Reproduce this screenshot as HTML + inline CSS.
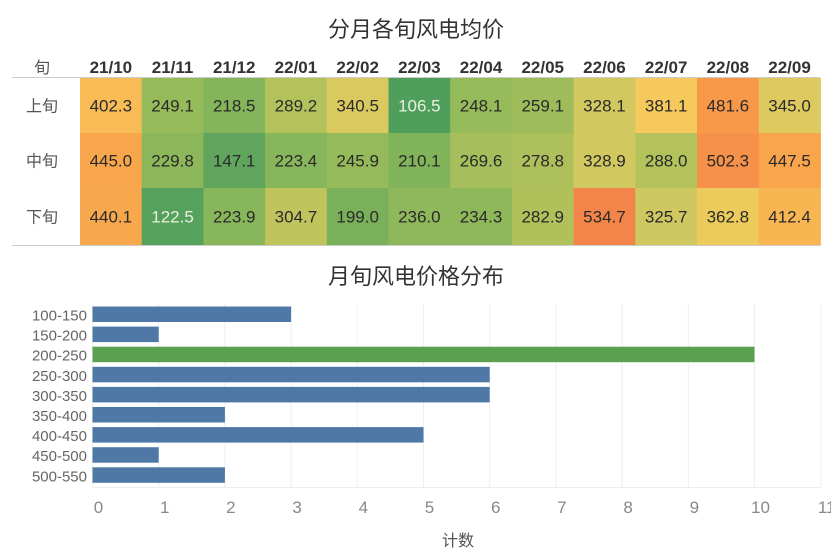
<!DOCTYPE html>
<html><head><meta charset="utf-8">
<style>
body{margin:0;background:#fff;font-family:"Liberation Sans","Noto Sans CJK SC",sans-serif;}
svg text{font-family:"Liberation Sans","Noto Sans CJK SC",sans-serif;}
</style></head>
<body>
<svg id="c" width="831" height="553" viewBox="0 0 831 553" xmlns="http://www.w3.org/2000/svg">
<text x="416" y="37" text-anchor="middle" font-size="22" fill="#333" font-family="Noto Serif CJK SC, serif">分月各旬风电均价</text>
<text x="416" y="284" text-anchor="middle" font-size="22" fill="#333" font-family="Noto Serif CJK SC, serif">月旬风电价格分布</text>
<g id="heat"></g>
<g id="bars"></g>
<text x="458" y="546" text-anchor="middle" font-size="16" fill="#555" font-family="Noto Serif CJK SC, serif">计数</text>
</svg>
<script>
const months=["21/10","21/11","21/12","22/01","22/02","22/03","22/04","22/05","22/06","22/07","22/08","22/09"];
const periods=["上旬","中旬","下旬"];
const upper=[402.3,249.1,218.5,289.2,340.5,106.5,248.1,259.1,328.1,381.1,481.6,345.0];
const middle=[445.0,229.8,147.1,223.4,245.9,210.1,269.6,278.8,328.9,288.0,502.3,447.5];
const lower=[440.1,122.5,223.9,304.7,199.0,236.0,234.3,282.9,534.7,325.7,362.8,412.4];
const bins=["100-150","150-200","200-250","250-300","300-350","350-400","400-450","450-500","500-550"];
const counts=[3,1,10,6,6,2,5,1,2];
const xTicks=[0,1,2,3,4,5,6,7,8,9,10,11];

const NS="http://www.w3.org/2000/svg";
function mk(tag,attrs,parent,text){const e=document.createElementNS(NS,tag);for(const k in attrs)e.setAttribute(k,attrs[k]);if(text!==undefined)e.textContent=text;parent.appendChild(e);return e;}
const stops=[[106,[79,158,91]],[150,[98,165,93]],[220,[134,181,90]],[250,[151,187,90]],[290,[181,194,92]],[330,[210,200,96]],[365,[238,203,92]],[385,[247,200,91]],[402,[248,187,85]],[445,[248,166,75]],[482,[248,153,74]],[535,[244,133,74]]];
function color(v){if(v<=stops[0][0])return "rgb("+stops[0][1]+")";for(let i=1;i<stops.length;i++){if(v<=stops[i][0]){const a=stops[i-1],b=stops[i],t=(v-a[0])/(b[0]-a[0]);return "rgb("+a[1].map((c,j)=>Math.round(c+(b[1][j]-c)*t)).join(",")+")";}}return "rgb("+stops[stops.length-1][1]+")";}

// heatmap
const heat=document.getElementById("heat");
const hx0=80,cw=61.7,hy0=78,rh=[55,55,57];
const rowsData=[upper,middle,lower];
function colX(i){return hx0+i*cw;}
let t=mk("text",{x:42,y:73,"text-anchor":"middle","font-size":16,fill:"#555","font-family":"Noto Serif CJK SC, serif"},heat,"旬");


months.forEach((m,i)=>{const e=mk("text",{x:colX(i)+cw/2,y:73,"text-anchor":"middle","font-size":17,"font-weight":"bold",fill:"#333"},heat,m);

});
let y=hy0;
periods.forEach((p,r)=>{
 const l=mk("text",{x:42,y:y+rh[r]/2+6,"text-anchor":"middle","font-size":16,fill:"#555","font-family":"Noto Serif CJK SC, serif"},heat,p);
 
 
 rowsData[r].forEach((v,i)=>{
  const rc=mk("rect",{x:colX(i),y:y,width:cw+0.5,height:rh[r]+0.5,fill:color(v)},heat);
  
  
  const tx=mk("text",{x:colX(i)+cw/2,y:y+rh[r]/2+6,"text-anchor":"middle","font-size":17,fill:v<130?"#e8f0e0":"#2a2a2a"},heat,v.toFixed(1));
  
  
 });
 y+=rh[r];
});
let ln=mk("line",{x1:12,x2:820,y1:77.5,y2:77.5,stroke:"#ccc","stroke-width":1},heat);


ln=mk("line",{x1:12,x2:820,y1:245.5,y2:245.5,stroke:"#ccc","stroke-width":1},heat);



// bar chart
const bars=document.getElementById("bars");
const bx0=92.5,unit=66.2,by0=304.5,bs=20.1,bh=15.5;
function xs(v){return bx0+v*unit;}
function ys(i){return by0+i*bs;}
xTicks.forEach(v=>{
 const g=mk("line",{x1:xs(v),x2:xs(v),y1:304,y2:488,stroke:"#eee","stroke-width":1},bars);
 
 
 const tl=mk("text",{x:xs(v)+6,y:513,"text-anchor":"middle","font-size":17,fill:"#888"},bars,String(v));
 
 
});
ln=mk("line",{x1:92,x2:820,y1:487.5,y2:487.5,stroke:"#eee","stroke-width":1},bars);


bins.forEach((b,i)=>{
 const r=mk("rect",{x:bx0,y:ys(i)+2,width:xs(counts[i])-bx0,height:bh,fill:b==="200-250"?"#59a14f":"#4e79a7"},bars);
 
 
 const l=mk("text",{x:87,y:ys(i)+16,"text-anchor":"end","font-size":15,fill:"#666"},bars,b);
 
 
});
</script>
</body></html>
